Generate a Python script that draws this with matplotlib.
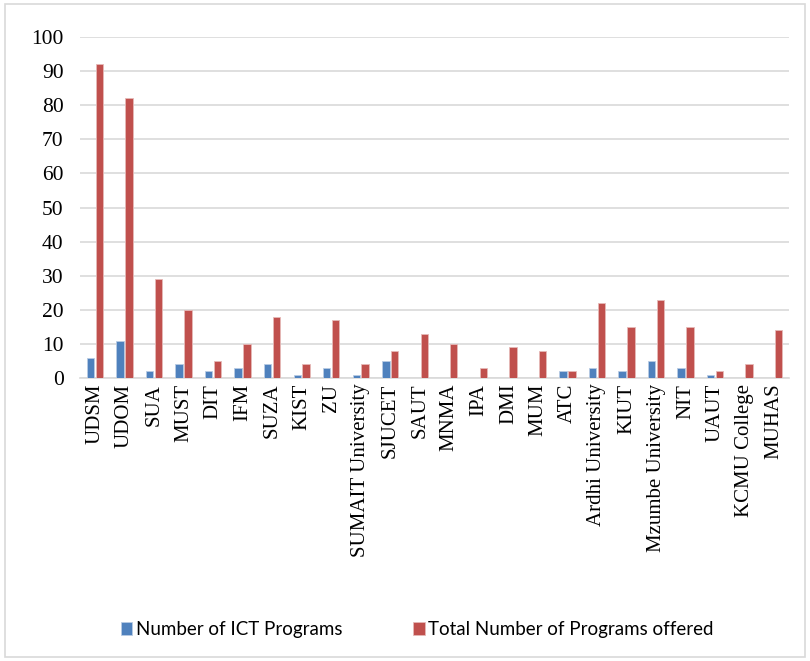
import numpy as np
import matplotlib.pyplot as plt
from matplotlib.patches import Rectangle

universities = ['UDSM', 'UDOM', 'SUA', 'MUST', 'DIT', 'IFM', 'SUZA', 'KIST', 'ZU',
                'SUMAIT University', 'SJUCET', 'SAUT', 'MNMA', 'IPA', 'DMI', 'MUM',
                'ATC', 'Ardhi University', 'KIUT', 'Mzumbe University', 'NIT', 'UAUT',
                'KCMU College', 'MUHAS']
ict_programs = [6, 11, 2, 4, 2, 3, 4, 1, 3, 1, 5, 0, 0, 0, 0, 0, 2, 3, 2, 5, 3, 1, 0, 0]
total_programs = [92, 82, 29, 20, 5, 10, 18, 4, 17, 4, 8, 13, 10, 3, 9, 8, 2, 22, 15, 23, 15, 2, 4, 14]

fig = plt.figure(figsize=(8.1, 6.61), dpi=100)
ax = fig.add_axes([0.099, 0.428, 0.875, 0.516])

x = np.arange(len(universities))
w = 0.25
ax.bar(x - 0.15, ict_programs, w, color='#4F81BD', edgecolor='#b9cce4', linewidth=0.6,
       label='Number of ICT Programs', zorder=3)
ax.bar(x + 0.15, total_programs, w, color='#C0504D', edgecolor='#e6b9b8', linewidth=0.6,
       label='Total Number of Programs offered', zorder=3)

ax.set_xlim(-0.5, len(universities) - 0.5)
ax.set_ylim(0, 100)
ax.set_yticks(np.arange(0, 101, 10))
ax.set_xticks(x)
ax.set_xticklabels(universities, rotation=90, fontfamily='Liberation Serif', fontsize=15)
for lbl in ax.get_yticklabels():
    lbl.set_fontfamily('Liberation Serif')
    lbl.set_fontsize(15.5)
ax.tick_params(axis='both', length=0, colors='black')
ax.tick_params(axis='y', pad=12)
ax.tick_params(axis='x', pad=4)
ax.grid(axis='y', color='#d9d9d9', linewidth=1.2, zorder=0)
for s in ['top', 'right', 'left']:
    ax.spines[s].set_visible(False)
ax.spines['bottom'].set_color('#d9d9d9')
ax.spines['bottom'].set_linewidth(1.2)

fig.legend(loc='center', bbox_to_anchor=(0.515, 0.047), ncol=2, frameon=False,
           prop={'family': 'Lato', 'size': 13.5}, handlelength=0.6, handleheight=0.7,
           columnspacing=3.8, handletextpad=0.2)

fig.patches.append(Rectangle((0.006, 0.006), 0.988, 0.988, transform=fig.transFigure,
                             fill=False, edgecolor='#d9d9d9', linewidth=1.2))

fig.savefig('out.png', dpi=100)
